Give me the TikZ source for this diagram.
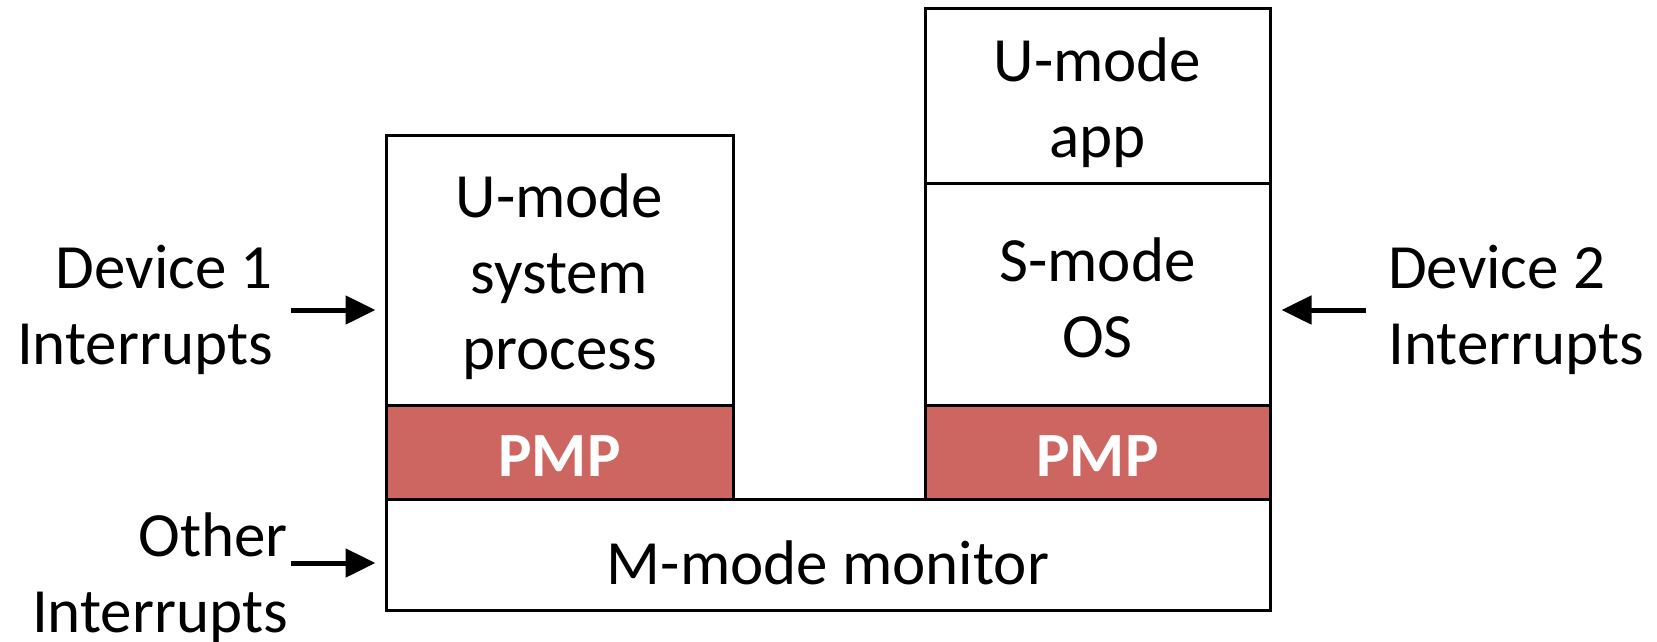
\documentclass[tikz,border=0pt]{standalone}
\usepackage{fontspec}
\setmainfont{Carlito}
\usetikzlibrary{arrows.meta}
\definecolor{pmpred}{RGB}{205,102,96}
\tikzset{
  blk/.style={draw=black, line width=3pt, rectangle, inner sep=0pt},
  pmp/.style={blk, fill=pmpred},
  lbl/.style={inner sep=0pt, font=\fontsize{63}{76}\selectfont},
  pmptxt/.style={lbl, text=white, font=\fontsize{63}{76}\selectfont\bfseries},
  arr/.style={line width=5pt, -{Triangle[length=30pt,width=28pt]}}
}
\begin{document}
\begin{tikzpicture}[x=1pt,y=-1pt]
\useasboundingbox (0,0) rectangle (1657,641);
% left stack
\node[blk, minimum width=347pt, minimum height=270pt] (usys) at (559.5,270) {};
\node[pmp, minimum width=347pt, minimum height=94pt] (pmp1) at (559.5,452) {};
% right stack
\node[blk, minimum width=345pt, minimum height=174.5pt] (uapp) at (1097.5,95.75) {};
\node[blk, minimum width=345pt, minimum height=222pt] (sos) at (1097.5,294) {};
\node[pmp, minimum width=345pt, minimum height=94pt] (pmp2) at (1097.5,452) {};
% monitor
\node[blk, minimum width=884pt, minimum height=111pt] (mon) at (828,554.5) {};
% box texts
\node[lbl, align=center] (usyst) at ([yshift=-7pt]usys.center) {U-mode\\system\\process};
\node[pmptxt] (pmp1t) at ([yshift=-4pt]pmp1.center) {PMP};
\node[lbl, align=center] (uappt) at ([yshift=-7pt]uapp.center) {U-mode\\app};
\node[lbl, align=center] (sost) at ([yshift=-4pt]sos.center) {S-mode\\OS};
\node[pmptxt] (pmp2t) at ([yshift=-4pt]pmp2.center) {PMP};
\node[lbl] (mont) at ([yshift=-8pt]mon.center) {M-mode monitor};
% labels
\node[lbl, anchor=east, align=right] (dev1) at (273,310) {Device 1\\Interrupts};
\node[lbl, anchor=west, align=left] (dev2) at (1388,310) {Device 2\\Interrupts};
\node[lbl, anchor=east, align=right] (oth) at (288,578) {Other\\Interrupts};
% arrows
\coordinate (a1) at (291,310);
\coordinate (a2) at (1366,310);
\coordinate (a3) at (291,563);
\draw[arr, shorten >=9pt] (a1) -- (a1 -| usys.west);
\draw[arr, shorten >=10pt] (a2) -- (a2 -| sos.east);
\draw[arr, shorten >=9pt] (a3) -- (a3 -| mon.west);
\end{tikzpicture}
\end{document}
